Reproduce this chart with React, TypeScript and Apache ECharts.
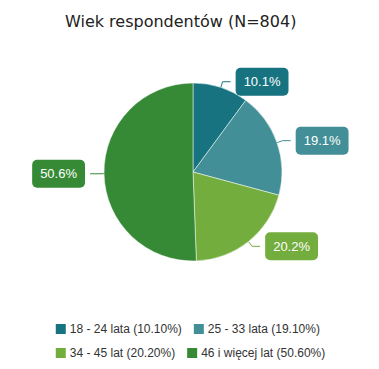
import React, { useEffect, useRef } from "react";
import * as echarts from "echarts";

const titleText = "Wiek respondentów (N=804)";
const categories = ["18 - 24 lata", "25 - 33 lata", "34 - 45 lat", "46 i więcej lat"];
const values = [10.1, 19.1, 20.2, 50.6];
const colors = ["#17737f", "#428f97", "#73ad3d", "#368a35"];

export default function App() {
  const ref = useRef<HTMLDivElement>(null);
  useEffect(() => {
    if (!ref.current) return;
    const chart = echarts.init(ref.current, undefined, { renderer: "svg" });
    const legendName = (n: string) => {
      const i = categories.indexOf(n);
      return `${n} (${values[i].toFixed(2)}%)`;
    };
    chart.setOption({
      animation: false,
      title: {
        text: titleText,
        left: 52,
        top: 0,
        textStyle: { fontFamily: "DejaVu Sans", fontSize: 16, fontWeight: "normal", color: "#222" },
      },
      legend: {
        top: 314,
        left: "center",
        width: 300,
        padding: 0,
        itemWidth: 12,
        itemHeight: 12,
        itemGap: 10,
        icon: "rect",
        formatter: legendName,
        textStyle: { fontFamily: "Liberation Sans", fontSize: 12, lineHeight: 12, color: "#333", padding: [0, 0, 0, -2] },
        data: categories,
      },
      series: [
        {
          type: "pie",
          center: [185, 164],
          radius: 89,
          startAngle: 90,
          clockwise: true,
          color: colors,
          itemStyle: { borderColor: "#fff", borderWidth: 0.5 },
          label: {
            show: true,
            formatter: (p: any) => `${values[p.dataIndex].toFixed(1)}%`,
            color: "#fff",
            fontFamily: "Liberation Sans",
            fontSize: 13,
            lineHeight: 15,
            padding: [7, 8, 6, 8],
            borderRadius: 5,
            backgroundColor: "inherit",
          },
          labelLine: { show: true, length: 6, length2: 8, lineStyle: { width: 1 } },
          emphasis: { disabled: true },
          data: categories.map((c, i) => ({ name: c, value: values[i] })),
        },
      ],
    });
    return () => chart.dispose();
  }, []);
  return <div ref={ref} style={{ width: 363, height: 353 }} />;
}
